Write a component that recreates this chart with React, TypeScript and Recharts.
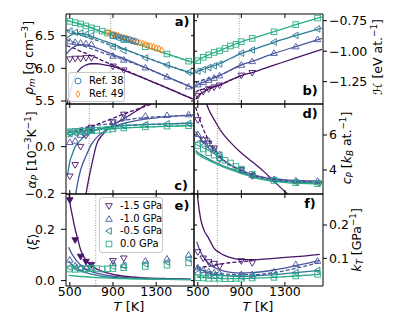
import React from 'react';
import { ComposedChart, Line, Scatter, XAxis, YAxis, ReferenceLine } from 'recharts';

const C15 = '#481467';
const C10 = '#4a579c';
const C05 = '#2c7a94';
const C00 = '#2aae86';
const REF38 = '#1f77b4';
const REF49 = '#ff7f0e';
const FONT = '"DejaVu Sans", sans-serif';

const X_DOMAIN = [465, 1650];
const X_TICKS = [500, 900, 1300];

// temperatures of the simulated points
const T7 = [500, 550, 600, 650, 700, 900, 1000];
const T10 = [500, 550, 600, 650, 700, 900, 1000, 1200, 1400, 1600];
const T13 = [500, 550, 600, 650, 700, 750, 800, 850, 900, 1000, 1200, 1400, 1600];
const T_LOW5 = [500, 550, 600, 650, 700];
const T_HIGH2 = [900, 1000];

// a) density
const rho15 = [6.14, 6.15, 6.15, 6.16, 6.16, 6.03, 5.97];
const rho10 = [6.41, 6.40, 6.39, 6.38, 6.37, 6.19, 6.13, 6.01, 5.87, 5.72];
const rho05 = [6.57, 6.55, 6.54, 6.52, 6.50, 6.33, 6.27, 6.16, 6.05, 5.94];
const rho00 = [6.72, 6.70, 6.68, 6.65, 6.62, 6.60, 6.57, 6.54, 6.50, 6.44, 6.33, 6.22, 6.11];
const ref38T = [900, 930, 960, 990, 1020, 1050, 1080, 1110];
const ref38 = [6.50, 6.49, 6.47, 6.46, 6.45, 6.44, 6.42, 6.41];
const ref49T = [850, 875, 900, 925, 950, 975, 1000, 1025, 1050, 1075, 1100, 1125, 1150, 1175, 1200, 1225, 1250, 1275, 1300, 1325, 1350];
const ref49 = [6.55, 6.54, 6.52, 6.51, 6.50, 6.48, 6.47, 6.46, 6.44, 6.43, 6.42, 6.40, 6.39, 6.38, 6.37, 6.35, 6.34, 6.33, 6.31, 6.30, 6.28];
const rhoFitT = [470, 500, 550, 600, 650, 700, 750, 800, 900, 1000, 1200, 1400, 1640];
const rhoSolid15 = [5.40, 5.62, 5.88, 6.00, 6.05, 6.07, 6.07, 6.06, 6.03, 5.97, 5.84, 5.70, 5.53];
const rhoDash15 = [6.35, 6.33, 6.30, 6.26, 6.23, 6.19, 6.16, 6.12, 6.05, 5.98, 5.84, 5.70, 5.53];
const rhoSolid10 = [6.22, 6.28, 6.34, 6.36, 6.36, 6.34, 6.31, 6.28, 6.21, 6.15, 6.01, 5.87, 5.70];
const rhoDash10 = [6.44, 6.42, 6.39, 6.36, 6.33, 6.30, 6.27, 6.24, 6.19, 6.13, 6.01, 5.87, 5.70];
const rhoSolid05 = [6.46, 6.50, 6.53, 6.53, 6.52, 6.49, 6.46, 6.43, 6.37, 6.30, 6.17, 6.05, 5.92];
const rhoDash05 = [6.59, 6.57, 6.54, 6.51, 6.48, 6.45, 6.43, 6.40, 6.34, 6.29, 6.17, 6.05, 5.92];
const rhoSolid00 = [6.73, 6.72, 6.70, 6.67, 6.65, 6.62, 6.59, 6.56, 6.50, 6.44, 6.33, 6.22, 6.09];
const rhoDash00 = [6.74, 6.72, 6.70, 6.68, 6.65, 6.62, 6.59, 6.56, 6.51, 6.45, 6.33, 6.22, 6.09];

// b) enthalpy
const h15 = [-1.365, -1.333, -1.31, -1.296, -1.28, -1.199, -1.177];
const h10 = [-1.274, -1.255, -1.237, -1.22, -1.2, -1.113, -1.083, -1.016, -0.962, -0.903];
const h05 = [-1.164, -1.15, -1.135, -1.12, -1.105, -1.016, -0.99, -0.925, -0.87, -0.817];
const h00 = [-1.078, -1.05, -1.03, -1.01, -0.998, -0.978, -0.957, -0.944, -0.922, -0.895, -0.841, -0.782, -0.728];
const hFitT = [480, 500, 550, 600, 650, 700, 800, 900, 1000, 1200, 1400, 1640];
const hSolid15 = [-1.395, -1.37, -1.335, -1.31, -1.293, -1.278, -1.238, -1.2, -1.175, -1.115, -1.055, -0.985];
const hDash15 = [-1.335, -1.325, -1.31, -1.298, -1.288, -1.275, -1.238, -1.2, null, null, null, null];
const hSolid10 = [-1.29, -1.275, -1.255, -1.237, -1.22, -1.2, -1.155, -1.113, -1.083, -1.018, -0.962, -0.895];
const hDash10 = [-1.26, -1.25, -1.235, -1.222, -1.21, -1.198, -1.156, -1.113, null, null, null, null];
const hSolid05 = [-1.18, -1.165, -1.148, -1.133, -1.118, -1.103, -1.06, -1.018, -0.99, -0.927, -0.871, -0.81];
const hSolid00 = [-1.09, -1.075, -1.05, -1.03, -1.012, -0.995, -0.958, -0.923, -0.895, -0.84, -0.783, -0.718];

// c) thermal expansion
const al15 = [-0.127, -0.078, 0.0, 0.048, 0.082, 0.105, 0.138];
const al10 = [0.019, 0.025, 0.05, 0.06, 0.072, 0.105, 0.125, 0.132, 0.135, 0.138];
const al05 = [0.055, 0.058, 0.062, 0.066, 0.07, 0.085, 0.09, 0.095, 0.098, 0.1];
const al00 = [0.064, 0.065, 0.066, 0.067, 0.068, 0.07, 0.072, 0.074, 0.076, 0.08, 0.085, 0.088, 0.09];
const alFitT = [480, 500, 525, 550, 575, 600, 650, 700, 750, 800, 900, 1000, 1200, 1400, 1640];
const alSolid15 = [-1.2, -1.0, -0.85, -0.7, -0.55, -0.4, -0.205, -0.085, 0.012, 0.05, 0.093, 0.12, 0.178, 0.234, 0.3];
const alDash15 = [0.06, 0.062, 0.065, 0.068, 0.071, 0.074, 0.08, 0.087, 0.095, 0.104, 0.122, 0.14, 0.173, 0.207, 0.247];
const alSolid10 = [-0.6, -0.45, -0.33, -0.22, -0.15, -0.1, -0.04, 0.01, 0.04, 0.06, 0.085, 0.1, 0.118, 0.128, 0.135];
const alDash10 = [0.07, 0.072, 0.074, 0.076, 0.078, 0.08, 0.084, 0.088, 0.092, 0.095, 0.1, 0.112, 0.125, 0.13, 0.137];
const alSolid05 = [-0.12, -0.064, -0.03, 0.0, 0.015, 0.028, 0.05, 0.064, 0.072, 0.078, 0.085, 0.09, 0.095, 0.098, 0.1];
const alDash05 = [0.058, 0.06, 0.062, 0.064, 0.066, 0.068, 0.071, 0.074, 0.077, 0.08, 0.085, 0.09, 0.095, 0.098, 0.101];
const alSolid00 = [0.04, 0.048, 0.053, 0.058, 0.061, 0.064, 0.067, 0.07, 0.073, 0.075, 0.078, 0.08, 0.084, 0.087, 0.09];
const alDash00 = [0.062, 0.063, 0.064, 0.065, 0.066, 0.067, 0.069, 0.071, 0.073, 0.075, 0.078, 0.081, 0.085, 0.088, 0.091];

// d) heat capacity
const cp15 = [6.86, 5.71, 5.52, 5.24, 4.61, 4.0, 3.66];
const cp10 = [6.04, 5.75, 5.66, 5.14, 4.9, 4.0, 3.7, 3.47, 3.39, 3.37];
const cp05 = [5.52, 5.38, 5.22, 5.05, 4.85, 4.0, 3.7, 3.42, 3.3, 3.25];
const cp00 = [5.4, 5.2, 5.0, 4.85, 4.7, 4.55, 4.4, 4.2, 4.05, 3.75, 3.4, 3.27, 3.22];
const cpFitT = [480, 500, 525, 550, 575, 600, 625, 650, 700, 750, 800, 900, 1000, 1100, 1200, 1335, 1400, 1640];
const cpSolid15 = [13, 11.5, 9.8, 8.6, 7.9, 7.45, 7.15, 6.88, 6.35, 5.92, 5.58, 4.97, 4.47, 3.95, 3.35, 2.57, 2.2, 1.0];
const cpDash15 = [7.6, 7.2, 6.75, 6.35, 6.0, 5.7, 5.43, 5.2, 4.8, 4.5, 4.28, 3.95, 3.7, 3.55, 3.45, 3.38, 3.35, 3.3];
const cpSolid10 = [6.2, 6.0, 5.8, 5.6, 5.42, 5.25, 5.1, 4.95, 4.7, 4.5, 4.3, 4.0, 3.75, 3.6, 3.5, 3.42, 3.4, 3.37];
const cpSolid05 = [5.1, 5.0, 4.9, 4.8, 4.71, 4.62, 4.54, 4.47, 4.33, 4.2, 4.08, 3.85, 3.65, 3.5, 3.4, 3.32, 3.3, 3.25];
const cpSolid00 = [5.0, 4.9, 4.8, 4.7, 4.62, 4.55, 4.47, 4.4, 4.27, 4.14, 4.02, 3.8, 3.6, 3.45, 3.35, 3.27, 3.25, 3.2];

// e) order parameter
const xi15Filled = [0.314, 0.158, 0.094, 0.074, 0.062];
const xi15Open = [0.077, 0.087];
const xi10 = [0.081, 0.058, 0.05, 0.052, 0.054, 0.068, 0.06, 0.077, 0.085, 0.1];
const xi05 = [0.052, 0.05, 0.048, 0.048, 0.05, 0.055, 0.058, 0.065, 0.072, 0.085];
const xi00 = [0.045, 0.044, 0.045, 0.046, 0.047, 0.046, 0.045, 0.046, 0.047, 0.05, 0.055, 0.06, 0.069];
const xiFitT = [490, 500, 525, 550, 575, 600, 650, 700, 750, 800, 900, 1000, 1200, 1400, 1620];
const xiSolid15 = [0.35, 0.31, 0.25, 0.2, 0.16, 0.12, 0.08, 0.058, 0.045, 0.036, 0.024, 0.017, 0.011, 0.008, 0.006];
const xiSolid10 = [0.13, 0.12, 0.1, 0.085, 0.072, 0.06, 0.045, 0.035, 0.029, 0.024, 0.017, 0.013, 0.009, 0.007, 0.005];
const xiSolid05 = [0.075, 0.07, 0.06, 0.05, 0.044, 0.038, 0.031, 0.025, 0.021, 0.017, 0.013, 0.01, 0.007, 0.005, 0.004];
const xiSolid00 = [0.021, 0.02, 0.019, 0.018, 0.017, 0.016, 0.015, 0.013, 0.012, 0.011, 0.009, 0.008, 0.006, 0.005, 0.004];

// f) compressibility
const k15 = [0.119, 0.1, 0.089, 0.084, 0.076, 0.092, 0.086];
const k10 = [0.072, 0.065, 0.06, 0.057, 0.055, 0.052, 0.052, 0.06, 0.082, 0.092];
const k05 = [0.055, 0.052, 0.05, 0.048, 0.047, 0.045, 0.047, 0.05, 0.057, 0.064];
const k00 = [0.042, 0.041, 0.04, 0.04, 0.04, 0.039, 0.039, 0.04, 0.04, 0.041, 0.043, 0.047, 0.052];
const kFitT = [490, 500, 525, 550, 600, 650, 700, 750, 800, 900, 1000, 1200, 1400, 1620];
const kSolid15 = [0.32, 0.28, 0.22, 0.19, 0.16, 0.13, 0.117, 0.108, 0.102, 0.096, 0.096, 0.1, 0.105, 0.112];
const kDash15 = [0.072, 0.072, 0.073, 0.074, 0.076, 0.079, 0.082, 0.085, 0.087, 0.09, 0.093, null, null, null];
const kSolid10 = [0.15, 0.14, 0.12, 0.105, 0.085, 0.073, 0.066, 0.061, 0.058, 0.056, 0.057, 0.065, 0.078, 0.094];
const kDash10 = [0.07, 0.068, 0.066, 0.064, 0.06, 0.057, 0.055, 0.053, 0.052, 0.051, 0.051, 0.057, 0.07, 0.088];
const kSolid05 = [0.08, 0.075, 0.068, 0.063, 0.056, 0.052, 0.05, 0.048, 0.047, 0.046, 0.047, 0.051, 0.057, 0.064];
const kSolid00 = [0.045, 0.044, 0.043, 0.042, 0.041, 0.04, 0.04, 0.039, 0.039, 0.039, 0.04, 0.043, 0.047, 0.052];

const pts = (ts: number[], vs: (number | null)[]) => ts.map((T, i) => ({ T, v: vs[i] }));
const minus = (s: string) => s.replace('-', '\u2212');

type Mark = { ts: number[]; vs: number[]; color: string; kind: string; filled?: boolean };
type Fit = { ts: number[]; vs: (number | null)[]; color: string; dashed?: boolean };

function Glyph({ kind, x, y, color, filled, r = 3.3 }: any) {
  const fill = filled ? color : 'none';
  const sw = 0.9;
  if (kind === 'square') {
    const s = r * 0.85;
    return <rect x={x - s} y={y - s} width={2 * s} height={2 * s} fill={fill} stroke={color} strokeWidth={sw} />;
  }
  if (kind === 'circle') return <circle cx={x} cy={y} r={r * 0.9} fill={fill} stroke={color} strokeWidth={sw} />;
  let d = '';
  if (kind === 'down') d = `M${x - r},${y - r * 0.7}L${x + r},${y - r * 0.7}L${x},${y + r}Z`;
  if (kind === 'up') d = `M${x - r},${y + r * 0.7}L${x + r},${y + r * 0.7}L${x},${y - r}Z`;
  if (kind === 'left') d = `M${x + r * 0.7},${y - r}L${x + r * 0.7},${y + r}L${x - r},${y}Z`;
  if (kind === 'diamond') d = `M${x},${y - r}L${x + r * 0.6},${y}L${x},${y + r}L${x - r * 0.6},${y}Z`;
  return <path d={d} fill={fill} stroke={color} strokeWidth={sw} />;
}

const tickStyle = { fill: '#000', fontSize: 12.5, fontFamily: FONT };

function Panel({ side, row, yDomain, yTicks, yFmt, vline, marks, fits }: any) {
  const left = side === 'left';
  const bottom = row === 2;
  const top = [0, 94, 184][row];
  const height = [114, 110, 132][row];
  const margin = {
    top: row === 0 ? 13 : 9,
    bottom: bottom ? 0 : 9,
    left: left ? 0 : 15,
    right: left ? 5 : 0,
  };
  return (
    <div style={{ position: 'absolute', left: left ? 0 : 178, top }}>
      <ComposedChart width={left ? 200 : 219} height={height} margin={margin}>
        <XAxis dataKey="T" type="number" domain={X_DOMAIN} ticks={X_TICKS} interval={0} allowDataOverflow
          height={bottom ? 30 : 1} tickSize={-4} tickMargin={5} stroke="#000" tick={tickStyle}
          tickFormatter={bottom ? (v: number) => String(v) : () => ''} />
        <XAxis xAxisId="top" orientation="top" dataKey="T" type="number" domain={X_DOMAIN} ticks={X_TICKS}
          interval={0} allowDataOverflow height={1} tickSize={-4} stroke="#000" tickFormatter={() => ''} />
        <YAxis type="number" orientation={left ? 'left' : 'right'} width={left ? 66 : 74} domain={yDomain}
          ticks={yTicks} interval={0} allowDataOverflow tickSize={left ? 5 : 4} tickMargin={left ? 6 : 2}
          stroke="#000" tick={tickStyle} tickFormatter={yFmt} />
        <YAxis yAxisId="o" type="number" orientation={left ? 'right' : 'left'} width={1} domain={yDomain}
          ticks={yTicks} interval={0} allowDataOverflow tickSize={-3} stroke="#000" tickFormatter={() => ''} />
        <ReferenceLine x={vline} stroke="#999" strokeDasharray="1 1.5" strokeWidth={1} />
        {fits.map((f: Fit, i: number) => (
          <Line key={'f' + i} data={pts(f.ts, f.vs)} dataKey="v" type="monotone" stroke={f.color}
            strokeWidth={1.3} strokeDasharray={f.dashed ? '4 2' : undefined} dot={false} activeDot={false}
            isAnimationActive={false} />
        ))}
        {marks.map((m: Mark, i: number) => (
          <Scatter key={'m' + i} data={pts(m.ts, m.vs)} dataKey="v" isAnimationActive={false}
            shape={(p: any) => <Glyph kind={m.kind} x={p.cx} y={p.cy} color={m.color} filled={m.filled} />} />
        ))}
      </ComposedChart>
    </div>
  );
}

const Sub = ({ children }: any) => <span style={{ fontSize: '0.7em', verticalAlign: '-0.3em' }}>{children}</span>;
const Sup = ({ children }: any) => <span style={{ fontSize: '0.7em', verticalAlign: '0.55em' }}>{children}</span>;

function VTitle({ x, y, children }: any) {
  return (
    <div style={{ position: 'absolute', left: x, top: y, transform: 'translate(-50%, -50%) rotate(-90deg)',
      whiteSpace: 'nowrap', fontSize: 12.5, lineHeight: 1, fontFamily: FONT }}>{children}</div>
  );
}

function Text({ x, y, bold, children }: any) {
  return (
    <div style={{ position: 'absolute', left: x, top: y, transform: 'translate(-50%, -50%)', whiteSpace: 'nowrap',
      fontSize: 13, lineHeight: 1, fontWeight: bold ? 'bold' : 'normal', fontFamily: FONT }}>{children}</div>
  );
}

function LegendBox({ x, y, w, h, pad, rows }: any) {
  return (
    <div style={{ position: 'absolute', left: x, top: y, width: w, height: h, boxSizing: 'border-box',
      border: '1px solid #c8c8c8', borderRadius: 3, background: 'rgba(255,255,255,0.85)', fontFamily: FONT,
      fontSize: 10, lineHeight: 1, padding: `${pad}px 0 0 2px`, whiteSpace: 'nowrap' }}>
      {rows.map((r: any) => (
        <div key={r.label} style={{ display: 'flex', alignItems: 'center', height: r.h, whiteSpace: 'nowrap' }}>
          <svg width={14} height={10} style={{ marginRight: 4, flex: 'none' }}>
            <Glyph kind={r.kind} x={7} y={5} color={r.color} />
          </svg>
          <span style={{ whiteSpace: 'nowrap' }}>{r.label}</span>
        </div>
      ))}
    </div>
  );
}

const fitsOf = (ts: number[], list: [any[], string, boolean?][]) =>
  list.map(([vs, color, dashed]) => ({ ts, vs, color, dashed }));

export default function App() {
  return (
    <div style={{ position: 'absolute', left: 0, top: 0, width: 397, height: 331, background: '#fff', fontFamily: FONT }}>
      <Panel side="left" row={0} yDomain={[5.454, 6.832]} yTicks={[5.5, 6.0, 6.5]} yFmt={(v: number) => v.toFixed(1)} vline={880}
        fits={fitsOf(rhoFitT, [[rhoSolid15, C15], [rhoDash15, C15, true], [rhoSolid10, C10], [rhoDash10, C10, true],
          [rhoSolid05, C05], [rhoDash05, C05, true], [rhoSolid00, C00], [rhoDash00, C00, true]])}
        marks={[
          { ts: T7, vs: rho15, color: C15, kind: 'down' },
          { ts: T10, vs: rho10, color: C10, kind: 'up' },
          { ts: T10, vs: rho05, color: C05, kind: 'left' },
          { ts: T13, vs: rho00, color: C00, kind: 'square' },
          { ts: ref49T, vs: ref49, color: REF49, kind: 'diamond' },
          { ts: ref38T, vs: ref38, color: REF38, kind: 'circle' },
        ]} />
      <Panel side="right" row={0} yDomain={[-1.433, -0.695]} yTicks={[-1.25, -1.0, -0.75]} yFmt={(v: number) => minus(v.toFixed(2))} vline={880}
        fits={fitsOf(hFitT, [[hSolid15, C15], [hDash15, C15, true], [hSolid10, C10], [hDash10, C10, true],
          [hSolid05, C05], [hSolid00, C00]])}
        marks={[
          { ts: T7, vs: h15, color: C15, kind: 'down' },
          { ts: T10, vs: h10, color: C10, kind: 'up' },
          { ts: T10, vs: h05, color: C05, kind: 'left' },
          { ts: T13, vs: h00, color: C00, kind: 'square' },
        ]} />
      <Panel side="left" row={1} yDomain={[-0.203, 0.183]} yTicks={[-0.2, 0.0]} yFmt={(v: number) => minus(v.toFixed(1))} vline={680}
        fits={fitsOf(alFitT, [[alSolid15, C15], [alDash15, C15, true], [alSolid10, C10], [alDash10, C10, true],
          [alSolid05, C05], [alDash05, C05, true], [alSolid00, C00], [alDash00, C00, true]])}
        marks={[
          { ts: T7, vs: al15, color: C15, kind: 'down' },
          { ts: T10, vs: al10, color: C10, kind: 'up' },
          { ts: T10, vs: al05, color: C05, kind: 'left' },
          { ts: T13, vs: al00, color: C00, kind: 'square' },
        ]} />
      <Panel side="right" row={1} yDomain={[2.63, 7.77]} yTicks={[4, 6]} yFmt={(v: number) => String(v)} vline={680}
        fits={fitsOf(cpFitT, [[cpSolid15, C15], [cpDash15, C15, true], [cpSolid10, C10], [cpSolid05, C05], [cpSolid00, C00]])}
        marks={[
          { ts: T7, vs: cp15, color: C15, kind: 'down' },
          { ts: T10, vs: cp10, color: C10, kind: 'up' },
          { ts: T10, vs: cp05, color: C05, kind: 'left' },
          { ts: T13, vs: cp00, color: C00, kind: 'square' },
        ]} />
      <Panel side="left" row={2} yDomain={[-0.021, 0.3375]} yTicks={[0.0, 0.2]} yFmt={(v: number) => v.toFixed(1)} vline={740}
        fits={fitsOf(xiFitT, [[xiSolid15, C15], [xiSolid10, C10], [xiSolid05, C05], [xiSolid00, C00]])}
        marks={[
          { ts: T_LOW5, vs: xi15Filled, color: C15, kind: 'down', filled: true },
          { ts: T_HIGH2, vs: xi15Open, color: C15, kind: 'down' },
          { ts: T10, vs: xi10, color: C10, kind: 'up' },
          { ts: T10, vs: xi05, color: C05, kind: 'left' },
          { ts: T13, vs: xi00, color: C00, kind: 'square' },
        ]} />
      <Panel side="right" row={2} yDomain={[0.017, 0.293]} yTicks={[0.1, 0.2]} yFmt={(v: number) => v.toFixed(1)} vline={680}
        fits={fitsOf(kFitT, [[kSolid15, C15], [kDash15, C15, true], [kSolid10, C10], [kDash10, C10, true],
          [kSolid05, C05], [kSolid00, C00]])}
        marks={[
          { ts: T7, vs: k15, color: C15, kind: 'down' },
          { ts: T10, vs: k10, color: C10, kind: 'up' },
          { ts: T10, vs: k05, color: C05, kind: 'left' },
          { ts: T13, vs: k00, color: C00, kind: 'square' },
        ]} />

      <VTitle x={29} y={58}><i>ρ</i><Sub><i>m</i></Sub> [g cm<Sup>−3</Sup>]</VTitle>
      <VTitle x={32} y={150}><i>α</i><Sub><i>P</i></Sub> [10<Sup>−3</Sup>K<Sup>−1</Sup>]</VTitle>
      <VTitle x={33} y={242}>⟨<i>ξ</i>⟩</VTitle>
      <VTitle x={377} y={57}><i>ℋ</i> [eV at.<Sup>−1</Sup>]</VTitle>
      <VTitle x={347} y={148}><i>c</i><Sub><i>P</i></Sub> [<i>k</i><Sub><i>B</i></Sub> at.<Sup>−1</Sup>]</VTitle>
      <VTitle x={357} y={240}><i>k</i><Sub><i>T</i></Sub> [GPa<Sup>−1</Sup>]</VTitle>
      <Text x={129} y={306}><i>T</i> [K]</Text>
      <Text x={258} y={306}><i>T</i> [K]</Text>

      <Text x={182} y={21} bold>a)</Text>
      <Text x={310} y={90} bold>b)</Text>
      <Text x={181} y={185} bold>c)</Text>
      <Text x={310} y={113} bold>d)</Text>
      <Text x={182} y={205} bold>e)</Text>
      <Text x={310} y={203} bold>f)</Text>

      <LegendBox x={68} y={72} w={57} h={30} pad={2} rows={[
        { label: 'Ref. 38', kind: 'circle', color: REF38, h: 12.5 },
        { label: 'Ref. 49', kind: 'diamond', color: REF49, h: 12.5 },
      ]} />
      <LegendBox x={99} y={197} w={64} h={56} pad={2} rows={[
        { label: '-1.5 GPa', kind: 'down', color: C15, h: 12.5 },
        { label: '-1.0 GPa', kind: 'up', color: C10, h: 12.5 },
        { label: '-0.5 GPa', kind: 'left', color: C05, h: 12.5 },
        { label: '0.0 GPa', kind: 'square', color: C00, h: 12.5 },
      ]} />
    </div>
  );
}
